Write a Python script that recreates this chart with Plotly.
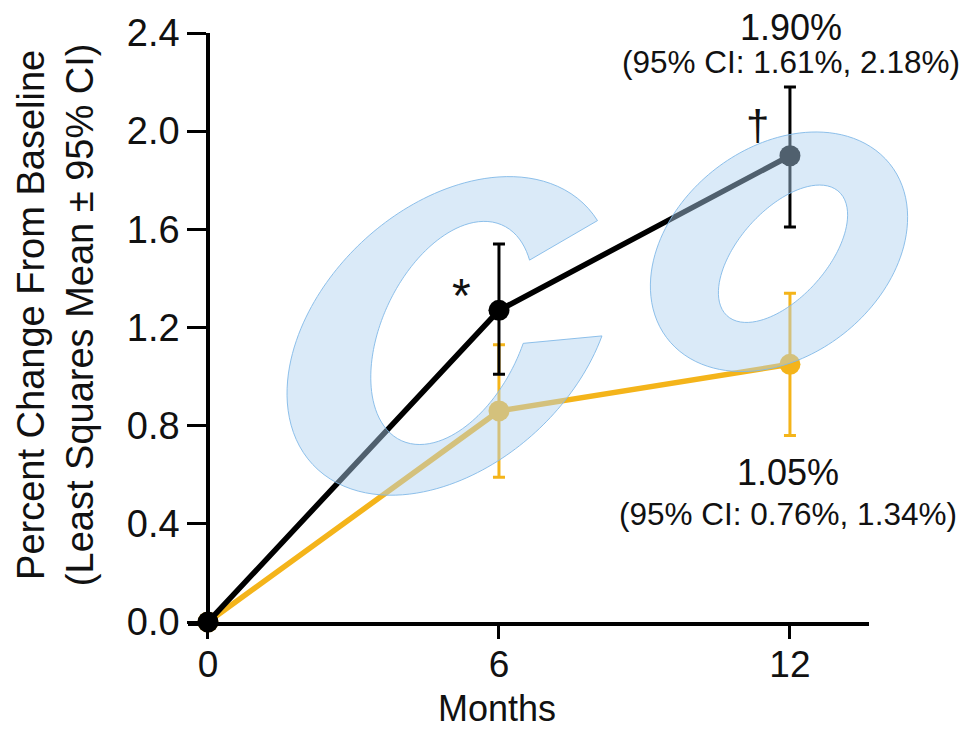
import numpy as np
import plotly.graph_objects as go

# ---------------- data ----------------
months = [0, 6, 12]
black_mean = [0.0, 1.27, 1.90]
black_lo = [0.0, 1.01, 1.61]
black_hi = [0.0, 1.54, 2.18]
orange_mean = [0.0, 0.86, 1.05]
orange_lo = [0.0, 0.59, 0.76]
orange_hi = [0.0, 1.13, 1.34]
y_ticks = [0.0, 0.4, 0.8, 1.2, 1.6, 2.0, 2.4]
x_ticks = [0, 6, 12]

BLACK = "#000000"
ORANGE = "#F4B41A"
TXT = "#111111"
FONT = "Liberation Sans, Arial, Helvetica, sans-serif"

W, H = 961, 731
L, R, T, B = 188, 92, 27, 109
XMIN, XMAX = -0.412, 13.63
YMIN, YMAX = 0.0, 2.4

fig = go.Figure()


def add_series(mean, lo, hi, color, ebw):
    plus = [h - m for h, m in zip(hi, mean)]
    minus = [m - l for m, l in zip(mean, lo)]
    fig.add_trace(go.Scatter(
        x=months, y=mean, mode="lines+markers",
        line=dict(color=color, width=5.5),
        marker=dict(color=color, size=21),
        error_y=dict(type="data", symmetric=False, array=plus, arrayminus=minus,
                     color=color, thickness=ebw, width=6),
        cliponaxis=False, showlegend=False, hoverinfo="skip"))


add_series(orange_mean, orange_lo, orange_hi, ORANGE, 3)
add_series(black_mean, black_lo, black_hi, BLACK, 3)


# ---------------- watermark (decorative "CO") ----------------
def px2paper(x, y):
    return (x - L) / (W - L - R), (H - B - y) / (H - T - B)


def arc(cx, cy, A, Bb, phi, th0, th1, n=140):
    pts = []
    p = np.radians(phi)
    for th in np.linspace(th0, th1, n):
        t = np.radians(th)
        r = 1.0 / np.sqrt((np.cos(t - p) / A) ** 2 + (np.sin(t - p) / Bb) ** 2)
        pts.append(px2paper(cx + r * np.cos(t), cy - r * np.sin(t)))
    return pts


def to_path(pts, start=True):
    s = ""
    for i, (x, y) in enumerate(pts):
        s += ("M" if i == 0 and start else "L") + f"{x:.5f},{y:.5f} "
    return s


# letter C
c_outer = arc(450, 333, 189, 129.4, 44, 38.3, 360)
c_inner = arc(452, 330, 120, 70, 65, 351.6, 43.5)
c_path = to_path(c_outer) + to_path(c_inner, start=False) + "Z"
# letter O
o_outer = arc(779, 248, 142, 105, 39, 0, 360)
o_inner = arc(783, 250, 84, 44, 48.6, 360, 0)
o_path = to_path(o_outer) + "Z " + to_path(o_inner) + "Z"

for pth in (c_path, o_path):
    fig.add_shape(type="path", path=pth, xref="paper", yref="paper",
                  fillcolor="rgba(175,210,240,0.46)",
                  line=dict(color="rgba(130,185,232,0.9)", width=1),
                  layer="above")

# ---------------- annotations (placed in pixel positions) ----------------
ann = [
    dict(x=791, y=21, text="1.90%", size=36),
    dict(x=791, y=56, text="(95% CI: 1.61%, 2.18%)", size=31.5),
    dict(x=788, y=471, text="1.05%", size=36),
    dict(x=788, y=513, text="(95% CI: 0.76%, 1.34%)", size=31.5),
    dict(x=461, y=292, text="*", size=48),
    dict(x=757, y=120, text="†", size=42),
]
for a in ann:
    px, py = px2paper(a["x"], a["y"])
    fig.add_annotation(x=px, y=py, xref="paper", yref="paper", text=a["text"],
                       showarrow=False, xanchor="center", yanchor="middle",
                       font=dict(family=FONT, size=a["size"], color=TXT))

# axis titles
tx, ty = px2paper(55, 312)
fig.add_annotation(x=tx, y=ty, xref="paper", yref="paper",
                   text="Percent Change From Baseline<br>(Least Squares Mean ± 95% CI)",
                   textangle=-90, showarrow=False, xanchor="center", yanchor="middle",
                   font=dict(family=FONT, size=38, color=TXT))
mx, my = px2paper(497, 709)
fig.add_annotation(x=mx, y=my, xref="paper", yref="paper", text="Months",
                   showarrow=False, xanchor="center", yanchor="middle",
                   font=dict(family=FONT, size=36, color=TXT))

fig.update_layout(
    width=W, height=H,
    margin=dict(l=L, r=R, t=T, b=B, pad=0),
    paper_bgcolor="white", plot_bgcolor="white",
    showlegend=False,
    font=dict(family=FONT, size=36, color=TXT),
    xaxis=dict(range=[XMIN, XMAX], domain=[0, 1], tickvals=x_ticks,
               ticktext=[str(v) for v in x_ticks],
               ticks="outside", ticklen=13, tickwidth=3, tickcolor="black",
               showline=True, linewidth=3.5, linecolor="black",
               showgrid=False, zeroline=False, ticklabelstandoff=-6,
               tickfont=dict(family=FONT, size=37, color=TXT)),
    yaxis=dict(range=[YMIN, YMAX], anchor="free",
               position=(0 - XMIN) / (XMAX - XMIN),
               tickvals=y_ticks, ticktext=[f"{v:.1f}" for v in y_ticks],
               ticks="outside", ticklen=19, tickwidth=3, tickcolor="black",
               showline=True, linewidth=3.5, linecolor="black",
               showgrid=False, zeroline=False, ticklabelstandoff=0,
               tickfont=dict(family=FONT, size=38, color=TXT)),
)

fig.write_html("out.html", config={"displayModeBar": False},
               post_script="document.body.style.margin='0px';")
